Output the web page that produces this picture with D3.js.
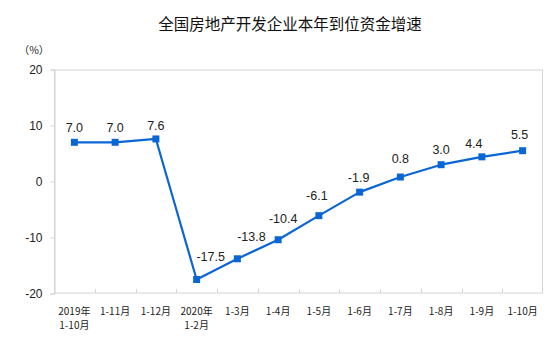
<!DOCTYPE html>
<html><head><meta charset="utf-8">
<script src="https://cdn.jsdelivr.net/npm/d3@7"></script>
<style>body{margin:0;background:#fff}svg{display:block}</style>
</head><body>
<svg id="c" width="550" height="357"></svg>
<script>
const title = "全国房地产开发企业本年到位资金增速";
const unitLabel = "（%）";
const categories = [
  ["2019年","1-10月"],["1-11月"],["1-12月"],["2020年","1-2月"],["1-3月"],["1-4月"],
  ["1-5月"],["1-6月"],["1-7月"],["1-8月"],["1-9月"],["1-10月"]
];
const values = [7.0, 7.0, 7.6, -17.5, -13.8, -10.4, -6.1, -1.9, 0.8, 3.0, 4.4, 5.5];
const yTicks = [-20, -10, 0, 10, 20];

// label nudges (layout only)
const labelDx = [0, 0, 0, 14, 14, 5, -2, -1, 0, 0, -8, -3];
const labelDy = [-15, -15, -13, -23, -22, -21, -20, -15, -18, -15, -13, -16];

const hy = s => s.replace(/\u2212/g, "-");
const svg = d3.select("#c");
const L = 54, T = 69.5, W = 489, H = 224;
const x = d3.scaleBand().domain(d3.range(categories.length)).range([L, L + W]).padding(0);
const y = d3.scaleLinear().domain([-20, 20]).range([T + H, T]);

svg.append("text").attr("x", 290).attr("y", 30).attr("text-anchor", "middle")
  .attr("font-family", "'Noto Sans CJK SC'").attr("font-size", 15.5).attr("fill", "#111").text(title);

svg.append("text").attr("x", 34).attr("y", 54).attr("text-anchor", "middle")
  .attr("font-family", "'Noto Sans CJK SC'").attr("font-size", 10.5).attr("fill", "#222").text(unitLabel);

// plot box
svg.append("rect").attr("x", L + 0.5).attr("y", T + 0.5).attr("width", W - 1).attr("height", H - 1)
  .attr("fill", "none").attr("stroke", "#d4d4d4").attr("stroke-width", 1);

// y axis
const yAxis = d3.axisLeft(y).tickValues(yTicks).tickSize(4).tickPadding(8)
  .tickFormat(d => hy(d3.format("d")(d)));
const gy = svg.append("g").attr("transform", `translate(${L + 0.5},0)`).call(yAxis);
gy.select(".domain").attr("stroke", "#d4d4d4");
gy.selectAll(".tick line").attr("stroke", "#d4d4d4");
gy.selectAll(".tick text").attr("font-family", "'Liberation Sans'").attr("font-size", 12).attr("fill", "#222");

// x axis (ticks inward at band boundaries)
const gx = svg.append("g").attr("transform", `translate(0,${T + H - 0.5})`);
d3.range(1, categories.length).forEach(i => {
  const bx = Math.round(x(i)) + 0.5;
  gx.append("line").attr("x1", bx).attr("x2", bx).attr("y1", 0).attr("y2", -4).attr("stroke", "#d4d4d4");
});
categories.forEach((lines, i) => {
  lines.forEach((s, k) => {
    gx.append("text").attr("text-anchor", "middle")
      .attr("font-family", "'Noto Sans CJK SC'").attr("font-size", 10).attr("fill", "#222")
      .attr("x", x(i) + x.bandwidth() / 2).attr("y", 21.5 + k * 14.5).text(s);
  });
});

// line
const cx = i => x(i) + x.bandwidth() / 2;
svg.append("path").datum(values)
  .attr("d", d3.line().x((d, i) => cx(i)).y(d => y(d)))
  .attr("fill", "none").attr("stroke", "#0a66d4").attr("stroke-width", 2.2).attr("stroke-linejoin", "round");

svg.selectAll("rect.m").data(values).join("rect").attr("class", "m")
  .attr("x", (d, i) => cx(i) - 3.5).attr("y", d => y(d) - 3.5)
  .attr("width", 7).attr("height", 7).attr("fill", "#0a66d4");

svg.selectAll("text.v").data(values).join("text").attr("class", "v")
  .attr("x", (d, i) => cx(i) + labelDx[i]).attr("y", (d, i) => y(d) + labelDy[i])
  .attr("dy", "0.35em").attr("text-anchor", "middle")
  .attr("font-family", "'Liberation Sans'").attr("font-size", 12.5).attr("fill", "#222")
  .text(d => hy(d3.format(".1f")(d)));
</script>
</body></html>
